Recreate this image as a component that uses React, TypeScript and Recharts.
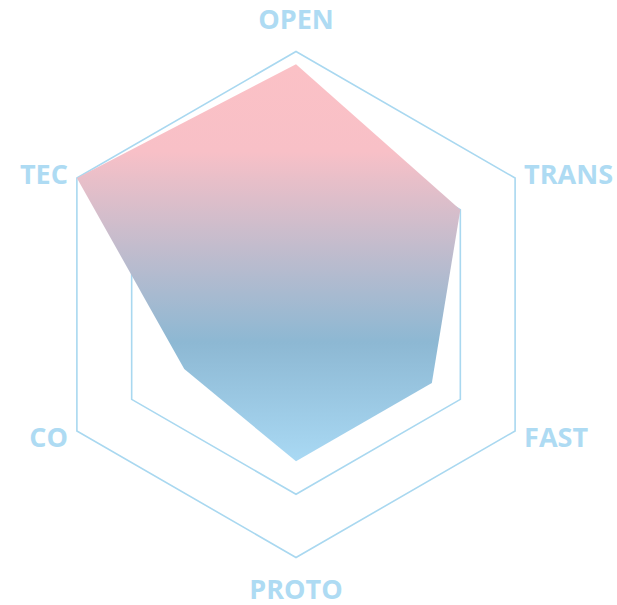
import React from "react";
import { RadarChart, Radar, PolarGrid, PolarAngleAxis, PolarRadiusAxis } from "recharts";

const axes = ["OPEN", "TRANS", "FAST", "PROTO", "CO", "TEC"];
const scores = [95, 75, 62, 62, 51, 100];

const data = axes.map((name, i) => ({ name, score: scores[i] }));

const CX = 296;
const CY = 304.5;
const R = 253;

function AxisTick(props: any) {
  const { payload, index } = props;
  const angle = 90 - index * 60;
  const rad = (angle * Math.PI) / 180;
  const cos = Math.cos(rad);
  const sin = Math.sin(rad);
  let x = CX + R * cos;
  let y = CY - R * sin;
  let anchor: "middle" | "start" | "end" = "middle";
  if (Math.abs(cos) < 0.01) {
    y += sin > 0 ? -33 : 31;
  } else {
    anchor = cos > 0 ? "start" : "end";
    x += cos > 0 ? 9 : -9;
    y += sin > 0 ? -5 : 5;
  }
  return (
    <text
      x={x}
      y={y}
      textAnchor={anchor}
      dominantBaseline="central"
      fill="#aedbf3"
      fontFamily="'Open Sans', sans-serif"
      fontWeight={700}
      fontSize={27}
    >
      {payload.value}
    </text>
  );
}

export default function App() {
  return (
    <div style={{ position: "absolute", left: 0, top: 0, width: 617, height: 605, background: "#fff" }}>
      <RadarChart
        width={617}
        height={605}
        data={data}
        cx={CX}
        cy={CY}
        outerRadius={R}
        startAngle={90}
        endAngle={-270}
        margin={{ top: 0, right: 0, bottom: 0, left: 0 }}
      >
        <defs>
          <linearGradient id="radarFill" x1="0" y1="0" x2="0" y2="1">
            <stop offset="0" stopColor="#fbc1c6" />
            <stop offset="0.22" stopColor="#f8c0c7" />
            <stop offset="0.7" stopColor="#8db8d3" />
            <stop offset="1" stopColor="#a9d9f4" />
          </linearGradient>
        </defs>
        <PolarGrid gridType="polygon" radialLines={false} stroke="#a9d8f0" strokeWidth={1.6} />
        <PolarAngleAxis dataKey="name" tick={<AxisTick />} axisLine={false} tickLine={false} />
        <PolarRadiusAxis domain={[0, 100]} tickCount={5} tick={false} axisLine={false} />
        <Radar
          dataKey="score"
          stroke="none"
          fill="url(#radarFill)"
          fillOpacity={1}
          isAnimationActive={false}
        />
      </RadarChart>
    </div>
  );
}
